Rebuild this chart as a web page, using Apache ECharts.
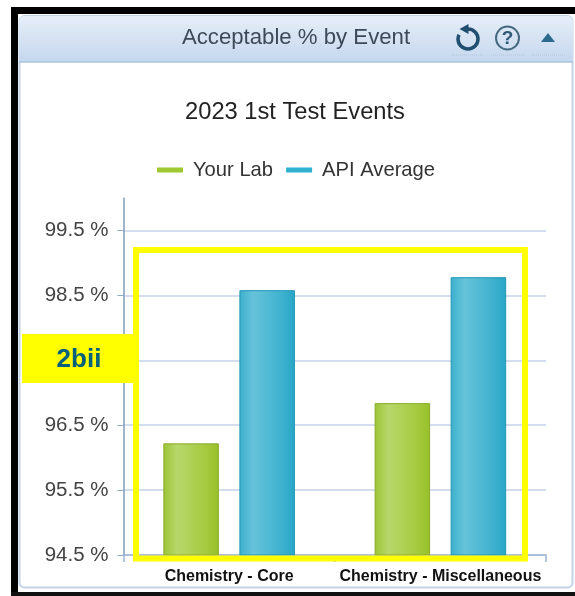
<!DOCTYPE html>
<html>
<head>
<meta charset="utf-8">
<style>html,body{margin:0;padding:0;background:#fff;}#c{width:575px;height:596px;}</style>
<script src="https://cdn.jsdelivr.net/npm/echarts@6/dist/echarts.min.js"></script>
</head>
<body>
<div id="c"></div>
<script>
const categories = ["Chemistry - Core", "Chemistry - Miscellaneous"];
const yourLab = [96.22, 96.84];
const apiAverage = [98.58, 98.78];
const yTicks = [94.5, 95.5, 96.5, 97.5, 98.5, 99.5];
const FONT = '"Liberation Sans", Arial, sans-serif';

function barFill(edge, light, mid, end) {
  return new echarts.graphic.LinearGradient(0, 0, 1, 0, [
    {offset: 0, color: edge}, {offset: 0.25, color: light},
    {offset: 0.75, color: mid}, {offset: 1, color: end}
  ]);
}
const chart = echarts.init(document.getElementById('c'), null, {renderer: 'canvas'});
const iconBlue = '#2b6a8c';
chart.setOption({
  animation: false,
  backgroundColor: '#ffffff',
  title: {
    text: '2023 1st Test Events', left: 290, top: 95, textAlign: 'center',
    textStyle: {fontFamily: FONT, fontWeight: 'normal', fontSize: 23.7, color: '#222'}
  },
  legend: {
    left: 152, top: 155, itemWidth: 26, itemHeight: 5, itemGap: 13,
    icon: 'rect',
    data: [
      {name: 'Your Lab', itemStyle: {color: '#a0c832', borderWidth: 0}},
      {name: 'API Average', itemStyle: {color: '#2fb0cf', borderWidth: 0}}
    ],
    textStyle: {fontFamily: FONT, fontSize: 20.2, color: '#333', padding: [0, 0, 0, 5]}
  },
  grid: {left: 123.5, right: 29, top: 198, bottom: 41},
  xAxis: {
    type: 'category', data: categories,
    axisLine: {lineStyle: {color: '#9db5d3', width: 1.5}},
    axisTick: {show: true, length: 7, lineStyle: {color: '#9db5d3', width: 1.5}},
    axisLabel: {fontFamily: FONT, fontSize: 16, fontWeight: 'bold', color: '#111', margin: 14, interval: 0}
  },
  yAxis: {
    type: 'value', min: 94.5, max: 100,
    axisLine: {show: true, lineStyle: {color: '#7f9db9', width: 1.5}},
    axisTick: {show: true, length: 6, customValues: yTicks, lineStyle: {color: '#8fa8c4'}},
    splitLine: {show: true, lineStyle: {color: '#d3ddee', width: 2}},
    axisLabel: {customValues: yTicks, fontFamily: FONT, fontSize: 20.5, color: '#444', margin: 15,
      formatter: v => v.toFixed(1) + ' %'}
  },
  series: [
    {name: 'Your Lab', type: 'bar', data: yourLab, barWidth: 55.5, barGap: '37%',
      itemStyle: {color: barFill('#9cc436', '#b7d76b', '#a6cb40', '#97c02a'), borderColor: '#8bab2a', borderWidth: 1}},
    {name: 'API Average', type: 'bar', data: apiAverage, barWidth: 55.5,
      itemStyle: {color: barFill('#3cb0cd', '#66c3da', '#3fb2cf', '#29a6c6'), borderColor: '#2095b3', borderWidth: 1}}
  ],
  color: ['#a0c832', '#2fb0cf'],
  graphic: [
    // black frame and panel
    {type: 'rect', z: 60, silent: true, shape: {x: 11, y: 7, width: 564, height: 7}, style: {fill: '#000'}},
    {type: 'rect', z: 60, silent: true, shape: {x: 11, y: 7, width: 7, height: 589}, style: {fill: '#000'}},
    {type: 'rect', z: 60, silent: true, shape: {x: 11, y: 592, width: 564, height: 4}, style: {fill: '#111'}},
    {type: 'rect', z: 0, silent: true, shape: {x: 19.5, y: 16, width: 553, height: 571.5, r: 5},
      style: {fill: 'transparent', stroke: '#c3d4e8', lineWidth: 2}},
    {type: 'rect', z: 1, silent: true, shape: {x: 19, y: 16, width: 554, height: 46, r: [5, 5, 0, 0]},
      style: {fill: new echarts.graphic.LinearGradient(0, 0, 0, 1, [
        {offset: 0, color: '#e6eef8'}, {offset: 1, color: '#c5d7ee'}])}},
    {type: 'line', z: 1, silent: true, shape: {x1: 19, y1: 62, x2: 573, y2: 62}, style: {stroke: '#a9c2de', lineWidth: 1.5}},
    {type: 'text', z: 2, silent: true, style: {text: 'Acceptable % by Event', x: 296, y: 38, align: 'center', verticalAlign: 'middle', fill: '#3c4a58', font: '22.2px ' + FONT}},
    // undo icon
    {type: 'arc', z: 2, silent: true, shape: {cx: 468, cy: 39, r: 10, startAngle: -Math.PI / 2, endAngle: Math.PI + 0.45, clockwise: true},
      style: {stroke: '#1f4e6e', lineWidth: 3.5, fill: null}},
    {type: 'polygon', z: 2, silent: true, shape: {points: [[459.5, 29], [468.5, 24], [468.5, 34]]}, style: {fill: '#1f4e6e'}},
    // help icon
    {type: 'circle', z: 2, silent: true, shape: {cx: 507.5, cy: 38, r: 11.5}, style: {fill: 'transparent', stroke: '#46697f', lineWidth: 2}},
    {type: 'text', z: 2, silent: true, style: {text: '?', x: 507.5, y: 38.5, align: 'center', verticalAlign: 'middle', fill: '#2f5874', font: 'bold 19px ' + FONT}},
    // collapse triangle
    {type: 'polygon', z: 2, silent: true, shape: {points: [[541, 42], [555, 42], [548, 33]]}, style: {fill: iconBlue}},
    // dotted underlines
    {type: 'line', z: 2, silent: true, shape: {x1: 452, y1: 55, x2: 484, y2: 55}, style: {stroke: '#b5c4d6', lineWidth: 1, lineDash: [1, 1]}},
    {type: 'line', z: 2, silent: true, shape: {x1: 491, y1: 55, x2: 525, y2: 55}, style: {stroke: '#b5c4d6', lineWidth: 1, lineDash: [1, 1]}},
    {type: 'line', z: 2, silent: true, shape: {x1: 532, y1: 55, x2: 565, y2: 55}, style: {stroke: '#b5c4d6', lineWidth: 1, lineDash: [1, 1]}},
    // yellow annotation
    {type: 'rect', z: 50, silent: true, shape: {x: 136, y: 250, width: 389, height: 308.5},
      style: {fill: 'transparent', stroke: '#ffff00', lineWidth: 6}},
    {type: 'rect', z: 50, silent: true, shape: {x: 22, y: 334, width: 117, height: 49}, style: {fill: '#ffff00'}},
    {type: 'text', z: 51, silent: true, style: {text: '2bii', x: 79, y: 360, align: 'center', verticalAlign: 'middle', fill: '#00607a', font: 'bold 26px ' + FONT}}
  ]
});
</script>
</body>
</html>
